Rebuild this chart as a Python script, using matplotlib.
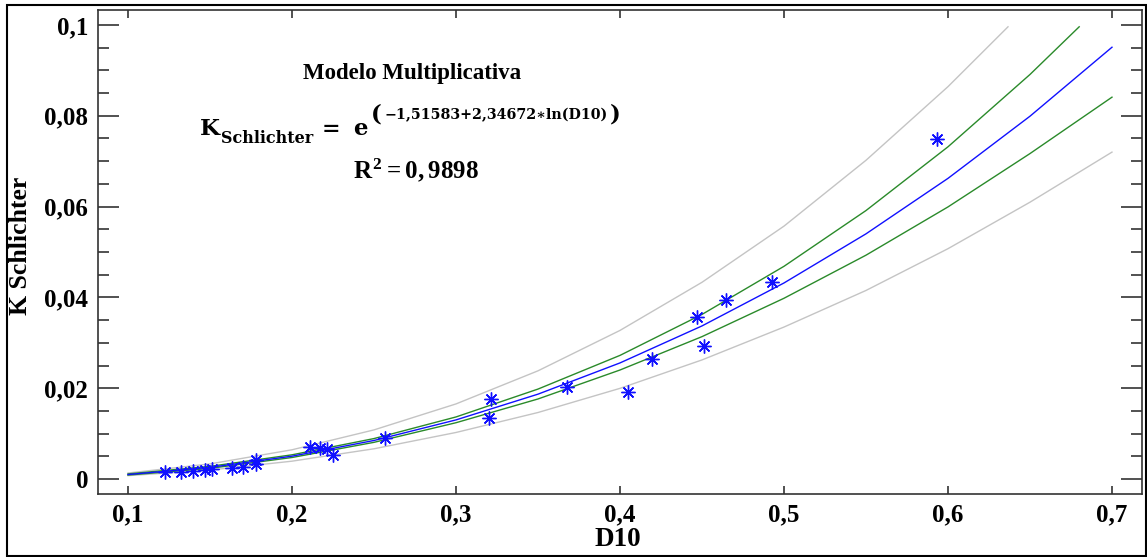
import matplotlib
matplotlib.use("Agg")
import matplotlib.pyplot as plt
from matplotlib.patches import Rectangle
from matplotlib.ticker import FixedLocator, MultipleLocator

plt.rcParams['font.family'] = ['Liberation Serif', 'DejaVu Serif']
plt.rcParams['font.weight'] = 'bold'
plt.rcParams['mathtext.fontset'] = 'custom'
plt.rcParams['mathtext.rm'] = 'Liberation Serif:bold'
plt.rcParams['mathtext.it'] = 'Liberation Serif:bold'
plt.rcParams['mathtext.bf'] = 'Liberation Serif:bold'

# ---- data ----
d10_obs = [0.1226, 0.1323, 0.1396, 0.1470, 0.1512, 0.1634, 0.1701, 0.1780, 0.1780,
           0.2110, 0.2171, 0.2213, 0.2250, 0.2567, 0.3201, 0.3213, 0.3679, 0.4050,
           0.4193, 0.4470, 0.4514, 0.4646, 0.4925, 0.5930]
k_obs = [0.0016, 0.0016, 0.0018, 0.0020, 0.0021, 0.0025, 0.0026, 0.0042, 0.0033,
         0.0071, 0.0069, 0.0066, 0.0053, 0.0090, 0.0134, 0.0176, 0.0202, 0.0192,
         0.0264, 0.0356, 0.0294, 0.0394, 0.0435, 0.0749]

x_grid = [0.10, 0.15, 0.20, 0.25, 0.30, 0.35, 0.40, 0.45, 0.50, 0.55, 0.60, 0.65, 0.70]
k_fit = [0.00099, 0.00256, 0.00503, 0.00849, 0.01302, 0.01869, 0.02557, 0.03372,
         0.04318, 0.05400, 0.06622, 0.07991, 0.0951]
k_conf_low = [0.00087, 0.00235, 0.00474, 0.00808, 0.01240, 0.01763, 0.02401, 0.03136,
              0.03981, 0.04930, 0.05993, 0.07168, 0.0841]
k_pred_low = [0.00074, 0.00197, 0.00393, 0.00666, 0.01025, 0.01465, 0.01997, 0.02623,
              0.03347, 0.04153, 0.05073, 0.06097, 0.0720]

x_conf_up = [0.10, 0.15, 0.20, 0.25, 0.30, 0.35, 0.40, 0.45, 0.50, 0.55, 0.60, 0.65, 0.68]
k_conf_up = [0.00113, 0.00279, 0.00533, 0.00891, 0.01367, 0.01981, 0.02723, 0.03625,
             0.04685, 0.05913, 0.07317, 0.08910, 0.0996]
x_pred_up = [0.10, 0.15, 0.20, 0.25, 0.30, 0.35, 0.40, 0.45, 0.50, 0.55, 0.60, 0.6366]
k_pred_up = [0.00132, 0.00333, 0.00644, 0.01082, 0.01654, 0.02383, 0.03273, 0.04333,
             0.05570, 0.0702, 0.08642, 0.0996]

x_ticks = [0.1, 0.2, 0.3, 0.4, 0.5, 0.6, 0.7]
x_labels = ['0,1', '0,2', '0,3', '0,4', '0,5', '0,6', '0,7']
y_ticks = [0, 0.02, 0.04, 0.06, 0.08, 0.1]
y_labels = ['0', '0,02', '0,04', '0,06', '0,08', '0,1']

W, H = 1147, 557
fig = plt.figure(figsize=(W / 100, H / 100), dpi=100)
ax = fig.add_axes([98 / W, 1 - 494 / H, (1142 - 98) / W, (494 - 10) / H])

gray = '#c4c4c4'
green = '#2a8a2a'
blue = '#1010ff'
ax.plot(x_pred_up, k_pred_up, color=gray, lw=1.0)
ax.plot(x_grid, k_pred_low, color=gray, lw=1.0)
ax.plot(x_conf_up, k_conf_up, color=green, lw=1.0)
ax.plot(x_grid, k_conf_low, color=green, lw=1.0)
ax.plot(x_grid, k_fit, color=blue, lw=1.0)
ax.plot(d10_obs, k_obs, linestyle='none', marker=(8, 2, 0), markersize=10,
        markeredgewidth=1.0, color=blue)

ax.set_xlim(0.0817, 0.7183)
ax.set_ylim(-0.0033, 0.1033)
ax.xaxis.set_major_locator(FixedLocator(x_ticks))
ax.set_xticklabels(x_labels)
ax.yaxis.set_major_locator(FixedLocator(y_ticks))
ax.set_yticklabels(y_labels)
ax.yaxis.set_minor_locator(MultipleLocator(0.005))

for s in ax.spines.values():
    s.set_color('#333333')
    s.set_linewidth(1.2)
ax.tick_params(axis='both', which='both', direction='in', top=True, right=True,
               colors='#333333', labelcolor='black', labelsize=18)
ax.tick_params(axis='y', which='major', length=15, width=1.2, pad=7)
ax.tick_params(axis='y', which='minor', length=8, width=1.2)
ax.tick_params(axis='x', which='major', length=6, width=1.2, pad=7)
for lab in ax.get_xticklabels() + ax.get_yticklabels():
    lab.set_fontweight('bold')

fig.text(21 / W, 1 - 246 / H, 'K Schlichter', rotation=90, ha='center', va='center',
         fontsize=18.5, fontweight='bold')
fig.text(618 / W, 1 - 540 / H, 'D10', ha='center', va='center',
         fontsize=19.5, fontweight='bold')

# ---- annotation texts ----
fig.text(412 / W, 1 - 74 / H, 'Modelo Multiplicativa', ha='center', va='center',
         fontsize=16.5, fontweight='bold')

renderer = fig.canvas.get_renderer()
EQF = ['DejaVu Serif']


def put(x, base, s, size, ha='left'):
    return fig.text(x / W, 1 - base / H, s, fontsize=size, ha=ha, va='baseline',
                    fontweight='bold', family=EQF)


put(200, 135, 'K', 16.5)
put(221, 143, 'Schlichter', 11.5)
put(331, 135, '=', 16, ha='center')
put(360, 135, 'e', 16.5, ha='center')
put(371, 121, '(', 16.5)
inner = '\u22121,51583+2,34672\u2217ln(D10)'
t = put(385, 119, inner, 12.5)
w = t.get_window_extent(renderer).width
t.set_fontsize(12.5 * (609 - 385) / w)
put(610, 121, ')', 16.5)

fig.text(416 / W, 1 - 170 / H, r'$R^{2} = 0,9898$', ha='center', va='center',
         fontsize=18)

fig.add_artist(Rectangle((7 / W, 1 - 556 / H), (1146 - 7) / W, (556 - 5) / H,
                         transform=fig.transFigure, fill=False, edgecolor='black',
                         lw=1.5))

fig.savefig('out.png', dpi=100)
